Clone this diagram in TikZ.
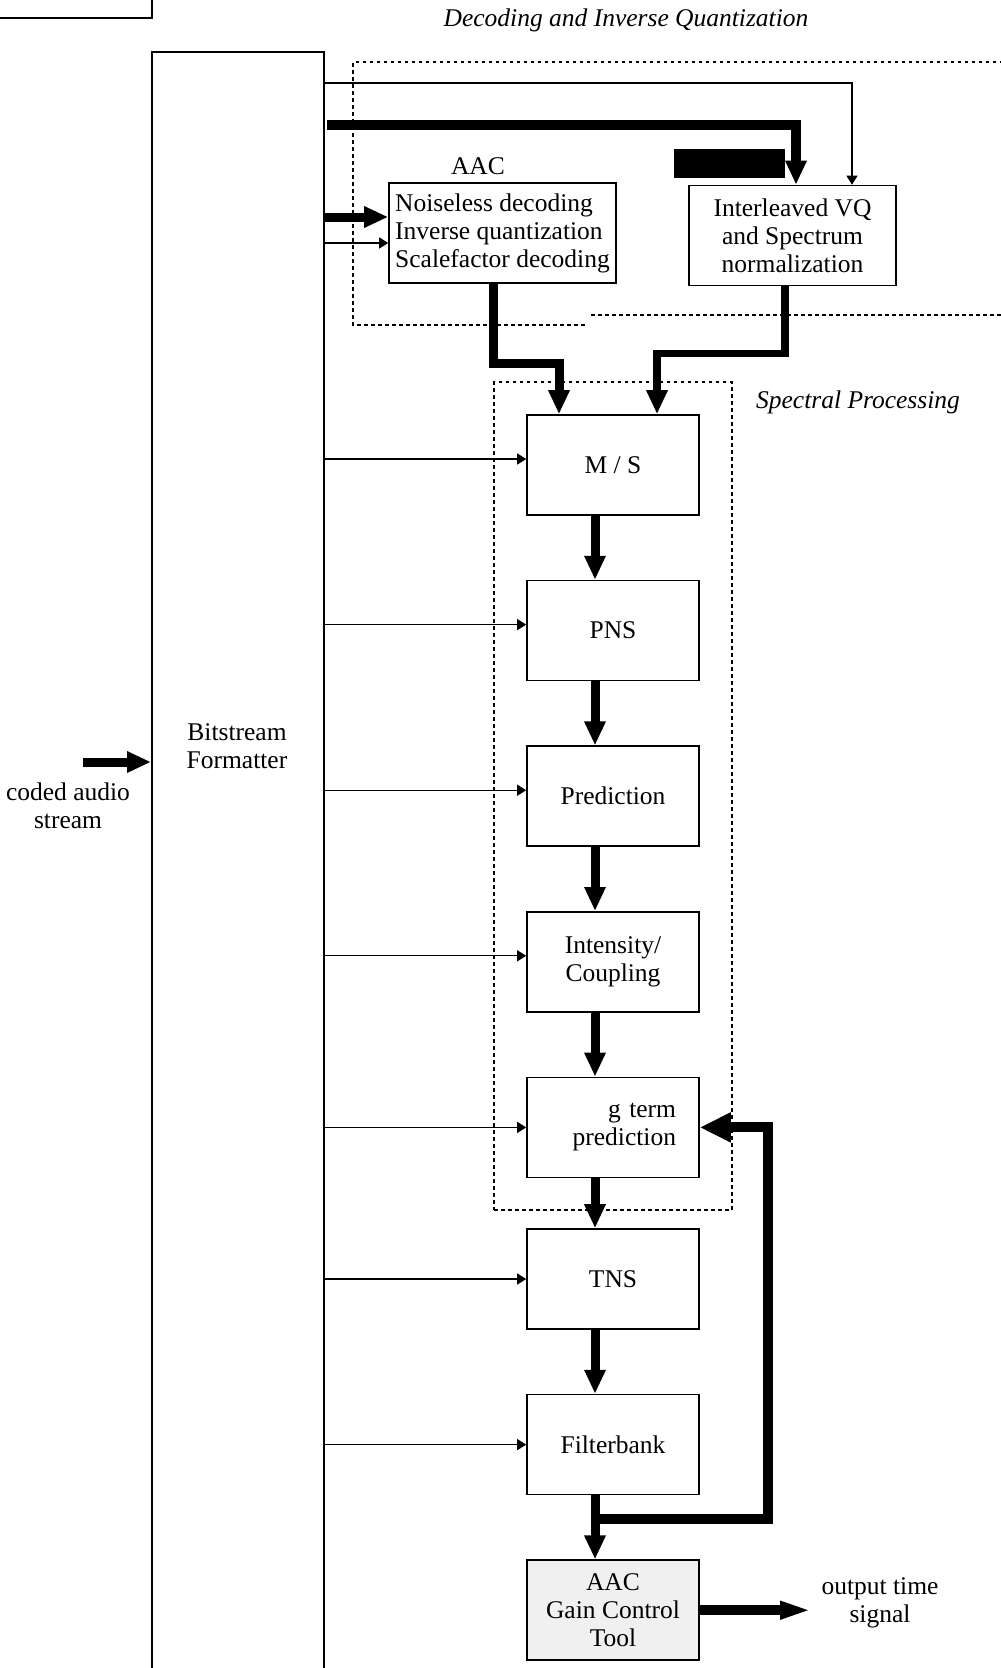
\documentclass[tikz,border=0pt]{standalone}
\usepackage{fontspec}
\setmainfont{Liberation Serif}
\usetikzlibrary{arrows.meta, positioning, fit}

\begin{document}
\begin{tikzpicture}[
    x=1pt, y=-1pt,
    font=\fontsize{25.5}{28}\selectfont,
    node distance=64pt,
    block/.style={rectangle, draw, line width=1.6pt, minimum width=172pt, minimum height=100pt, align=center, inner sep=2pt},
    fat/.style={line width=9pt, -{Triangle[length=24pt, width=20pt]}},
    sig/.style={line width=1.2pt, -{Triangle[length=9pt, width=11pt]}},
    dotline/.style={line width=1.5pt, dash pattern=on 3.5pt off 3.5pt},
    title/.style={font=\fontsize{25.5}{28}\selectfont\itshape}
]
    \useasboundingbox (0,0) rectangle (1001,1668);

    % box cut off at the top left
    \draw[line width=1.6pt] (-10,-80) rectangle (152,18);

    % bitstream formatter
    \node[draw, line width=1.6pt, minimum width=172pt, minimum height=1700pt, anchor=north west] (bf) at (151,51) {};
    \node[align=center] (bftxt) at (237,746) {Bitstream\\Formatter};
    \node[align=center] (cas) at (68,806) {coded audio\\stream};
    \coordinate (casin) at (83,762);
    \draw[fat] (casin) -- (casin -| bf.west);

    % decoding and inverse quantization
    \node[title] (diq) at (626,20) {Decoding and Inverse Quantization};
    \node[block, minimum width=227pt, align=left] (nd) at (502.5,233) {Noiseless decoding\\Inverse quantization\\Scalefactor decoding};
    \node (aac) at (478,166) {AAC};
    \node[block, minimum width=207pt] (ivq) at (792.5,235.5) {Interleaved VQ\\and Spectrum\\normalization};
    \fill (674,149) rectangle (785,178);
    \draw[dotline] (1010,62) -- (353,62) -- (353,325) -- (585,325);
    \draw[dotline] (591,315) -- (1010,315);

    % spectral processing and the rest
    \node[block] (ms) at (613,465) {M / S};
    \node[block, below=of ms] (pns) {PNS};
    \node[block, below=of pns] (pred) {Prediction};
    \node[block, below=of pred] (isc) {Intensity/\\Coupling};
    \node[block, below=of isc, text width=126pt, align=right] (ltp) {g term\\prediction};
    \node[block, below=50pt of ltp] (tns) {TNS};
    \node[block, below=of tns] (fb) {Filterbank};
    \node[block, below=of fb, fill=black!6] (gc) {AAC\\Gain Control\\Tool};
    \node[draw, dotline, fit=(ms)(ltp), inner sep=32pt] (sp) {};
    \node[title] (sptxt) at (858,402) {Spectral Processing};
    \node[align=center] (ots) at (880,1603) {output time\\signal};

    \draw[sig] ([yshift=-32pt]bf.north east) -| ([xshift=59.5pt]ivq.north);
    \draw[fat, line width=10pt] ([xshift=2pt, yshift=-74pt]bf.north east) -| ([xshift=3.5pt]ivq.north);
    \draw[fat] ([yshift=16pt]nd.west -| bf.east) -- ([yshift=16pt]nd.west);
    \draw[sig] ([yshift=-10pt]nd.west -| bf.east) -- ([yshift=-10pt]nd.west);
    \draw[fat] ([xshift=-9.5pt]nd.south) -- ++(0,80) -| ([xshift=-54pt]ms.north);
    \draw[fat, line width=7.5pt] ([xshift=-7.5pt]ivq.south) -- ++(0,67) -| ([xshift=44pt]ms.north);

    \draw[sig] ([yshift=6pt]ms.west -| bf.east) -- ([yshift=6pt]ms.west);
    \draw[sig] ([yshift=6pt]pns.west -| bf.east) -- ([yshift=6pt]pns.west);
    \draw[sig] ([yshift=6pt]pred.west -| bf.east) -- ([yshift=6pt]pred.west);
    \draw[sig] ([yshift=6pt]isc.west -| bf.east) -- ([yshift=6pt]isc.west);
    \draw[sig] (bf.east |- ltp.west) -- (ltp.west);
    \draw[sig] (bf.east |- tns.west) -- (tns.west);
    \draw[sig] (bf.east |- fb.west) -- (fb.west);

    \draw[fat] ([xshift=-18pt]ms.south) -- ([xshift=-18pt]pns.north);
    \draw[fat] ([xshift=-18pt]pns.south) -- ([xshift=-18pt]pred.north);
    \draw[fat] ([xshift=-18pt]pred.south) -- ([xshift=-18pt]isc.north);
    \draw[fat] ([xshift=-18pt]isc.south) -- ([xshift=-18pt]ltp.north);
    \draw[fat] ([xshift=-18pt]ltp.south) -- ([xshift=-18pt]tns.north);
    \draw[fat] ([xshift=-18pt]tns.south) -- ([xshift=-18pt]fb.north);
    \draw[fat] ([xshift=-18pt]fb.south) -- ([xshift=-18pt]gc.north);
    \draw[fat, line width=10pt, -{Triangle[length=31pt, width=28pt]}] ([xshift=-18pt, yshift=-24pt]fb.south) -| ([xshift=68pt]ltp.east) -- (ltp.east);
    \draw[fat, line width=10pt, -{Triangle[length=38pt, width=15pt]}] (gc.east) -- (gc.east -| ots.west);
\end{tikzpicture}
\end{document}
